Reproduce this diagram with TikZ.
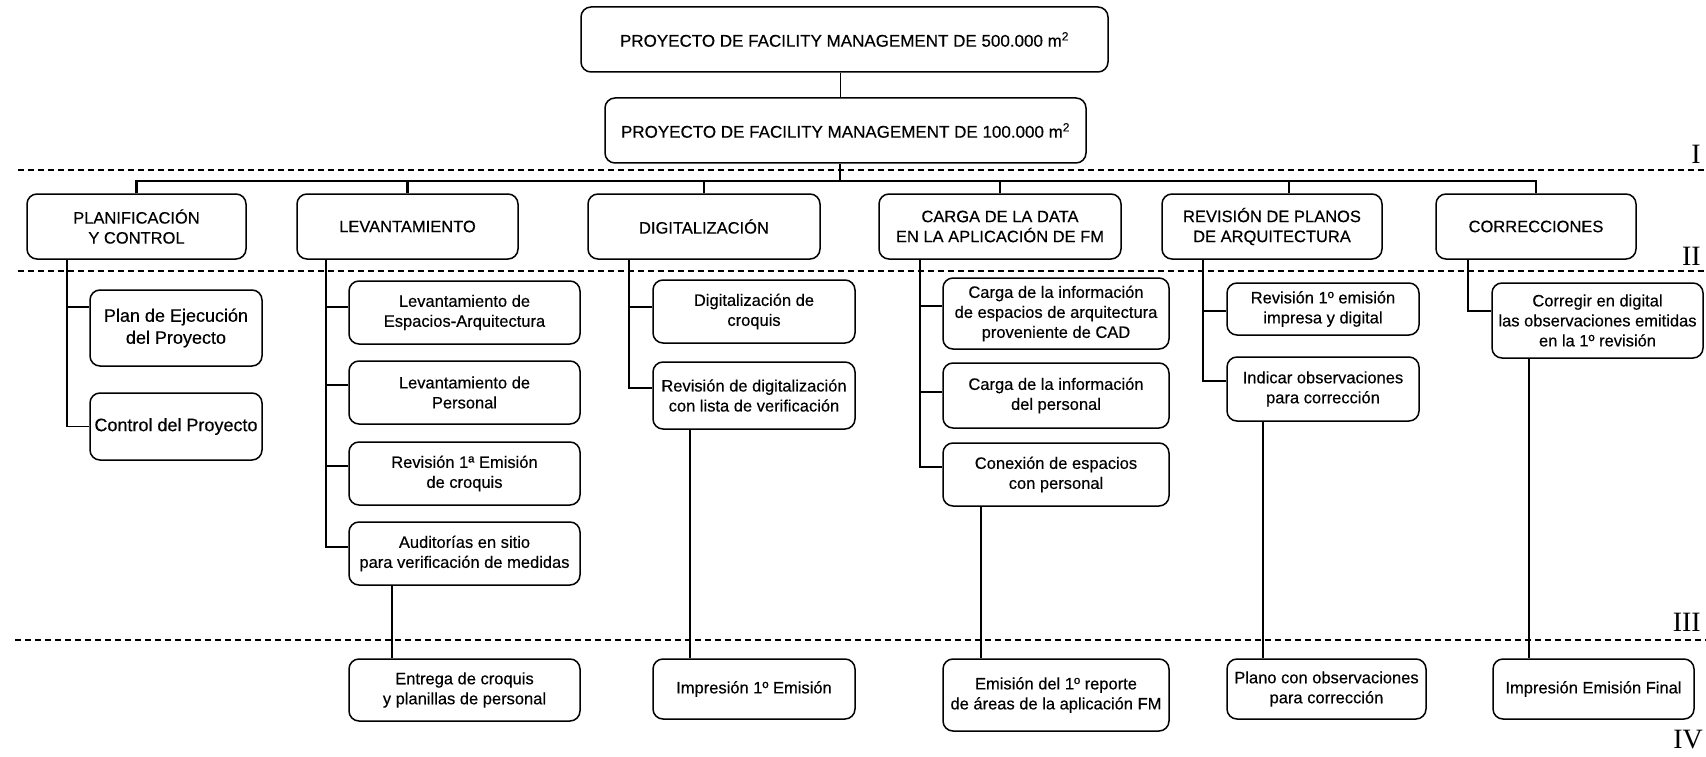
\documentclass[tikz,border=0pt]{standalone}
\usepackage{fontspec}
\setmainfont{Liberation Sans}[FakeBold=0.35]
\newfontfamily\lvlfont{Liberation Serif}
\begin{document}
\begin{tikzpicture}[x=1pt,y=-1pt,
  box/.style={draw, fill=white, rounded corners=10pt, line width=1.5pt, align=center, inner sep=0pt,
    font=\fontsize{16.5}{20}\selectfont},
  bigbox/.style={box, font=\fontsize{18}{22}\selectfont},
  topbox/.style={box, font=\fontsize{17}{21}\selectfont},
  sep/.style={dash pattern=on 6pt off 4pt, line width=1.9pt},
  busline/.style={line width=2.1pt},
  rail/.style={line width=1.6pt},
  link/.style={line width=1.3pt},
  thinlink/.style={line width=1pt},
  lvl/.style={anchor=base east, inner sep=0pt, font=\lvlfont\fontsize{28}{28}\selectfont}]
\useasboundingbox (0,0) rectangle (1706,757);

% level separators
\coordinate (s1a) at (18,170);  \coordinate (s1b) at (1706,170);
\coordinate (s2a) at (18,271);  \coordinate (s2b) at (1706,271);
\coordinate (s3a) at (15,640);  \coordinate (s3b) at (1706,640);
\draw[sep] (s1a) -- (s1b);
\draw[sep] (s2a) -- (s2b);
\draw[sep] (s3a) -- (s3b);
\node[lvl] (L1) at (1701,164) {I};
\node[lvl] (L2) at (1701,265) {II};
\node[lvl] (L3) at (1701,631) {III};
\node[lvl] (L4) at (1703,748) {IV};

% level I
\node[topbox, minimum width=527pt, minimum height=65pt] (T1) at (844.5,39.5) {\raisebox{-2pt}{PROYECTO DE FACILITY MANAGEMENT DE 500.000 m\textsuperscript{2}}};
\node[topbox, minimum width=481pt, minimum height=65pt] (T2) at (845.5,130.5) {\raisebox{-2pt}{PROYECTO DE FACILITY MANAGEMENT DE 100.000 m\textsuperscript{2}}};

% level II
\node[box, minimum width=219pt, minimum height=65pt] (A) at (136.5,226.5) {PLANIFICACIÓN\\Y CONTROL};
\node[box, minimum width=221pt, minimum height=65pt] (B) at (407.5,226.5) {LEVANTAMIENTO};
\node[box, minimum width=232pt, minimum height=65pt] (C) at (704,226.5) {DIGITALIZACIÓN};
\node[box, minimum width=242pt, minimum height=65pt] (D) at (1000,226.5) {CARGA DE LA DATA\\EN LA APLICACIÓN DE FM};
\node[box, minimum width=220pt, minimum height=65pt] (E) at (1272,226.5) {REVISIÓN DE PLANOS\\DE ARQUITECTURA};
\node[box, minimum width=200pt, minimum height=65pt] (F) at (1536,226.5) {CORRECCIONES};

% level III
\node[bigbox, minimum width=172pt, minimum height=76pt] (A1) at (176,328) {Plan de Ejecución\\del Proyecto};
\node[bigbox, minimum width=172pt, minimum height=67pt] (A2) at (176,426.5) {Control del Proyecto};

\node[box, minimum width=231pt, minimum height=63pt] (B1) at (464.5,312.5) {Levantamiento de\\Espacios-Arquitectura};
\node[box, minimum width=231pt, minimum height=63pt] (B2) at (464.5,392.5) {Levantamiento de\\Personal};
\node[box, minimum width=231pt, minimum height=63pt] (B3) at (464.5,473.5) {Revisión 1ª Emisión\\de croquis};
\node[box, minimum width=231pt, minimum height=63pt] (B4) at (464.5,553.5) {Auditorías en sitio\\para verificación de medidas};

\node[box, minimum width=202pt, minimum height=63pt] (C1) at (754,311.5) {Digitalización de\\croquis};
\node[box, minimum width=202pt, minimum height=67pt] (C2) at (754,395.5) {Revisión de digitalización\\con lista de verificación};

\node[box, minimum width=226pt, minimum height=71pt] (D1) at (1056,313.5) {Carga de la información\\de espacios de arquitectura\\proveniente de CAD};
\node[box, minimum width=226pt, minimum height=65pt] (D2) at (1056,395.5) {Carga de la información\\del personal};
\node[box, minimum width=226pt, minimum height=63pt] (D3) at (1056,474.5) {Conexión de espacios\\con personal};

\node[box, minimum width=192pt, minimum height=52pt] (E1) at (1323,309) {Revisión 1º emisión\\impresa y digital};
\node[box, minimum width=192pt, minimum height=64pt] (E2) at (1323,389) {Indicar observaciones\\para corrección};

\node[box, minimum width=211pt, minimum height=75pt] (F1) at (1597.5,320.5) {Corregir en digital\\las observaciones emitidas\\en la 1º revisión};

% level IV
\node[box, minimum width=231pt, minimum height=62pt] (B5) at (464.5,690) {Entrega de croquis\\y planillas de personal};
\node[box, minimum width=202pt, minimum height=60pt] (C3) at (754,689) {Impresión 1º Emisión};
\node[box, minimum width=226pt, minimum height=72pt] (D4) at (1056,695) {Emisión del 1º reporte\\de áreas de la aplicación FM};
\node[box, minimum width=199pt, minimum height=60pt] (E3) at (1326.5,689) {Plano con observaciones\\para corrección};
\node[box, minimum width=201pt, minimum height=60pt] (F2) at (1593.5,689) {Impresión Emisión Final};

% top connectors
\coordinate (bus) at (840,181);
\draw[thinlink] (T1.south -| bus) -- (T2.north -| bus);
\draw[busline] (T2.south -| bus) -- (bus);
\draw[busline] (A.north) -- (A.north |- bus) -- (F.north |- bus) -- (F.north);
\draw[busline] (B.north) -- (B.north |- bus);
\draw[busline] (C.north) -- (C.north |- bus);
\draw[busline] (D.north) -- (D.north |- bus);
\coordinate (Ed) at (1289,181);
\draw[busline] (Ed) -- (E.north -| Ed);

% rails
\coordinate (ra) at (67,0);
\draw[rail] (A.south -| ra) -- (ra |- A2.west) -- (A2.west);
\draw[rail] (ra |- 0,307) -- (A1.west |- 0,307);

\coordinate (rb) at (326,0);
\draw[rail] (B.south -| rb) -- (rb |- 0,547) -- (B4.west |- 0,547);
\draw[rail] (rb |- 0,307) -- (B1.west |- 0,307);
\draw[rail] (rb |- 0,385) -- (B2.west |- 0,385);
\draw[rail] (rb |- 0,466) -- (B3.west |- 0,466);

\coordinate (rc) at (629,0);
\draw[rail] (C.south -| rc) -- (rc |- 0,388) -- (C2.west |- 0,388);
\draw[rail] (rc |- 0,307) -- (C1.west |- 0,307);

\coordinate (rd) at (920,0);
\draw[rail] (D.south -| rd) -- (rd |- 0,467) -- (D3.west |- 0,467);
\draw[rail] (rd |- 0,306) -- (D1.west |- 0,306);
\draw[rail] (rd |- 0,392) -- (D2.west |- 0,392);

\coordinate (re) at (1203,0);
\draw[rail] (E.south -| re) -- (re |- 0,381) -- (E2.west |- 0,381);
\draw[rail] (re |- 0,311) -- (E1.west |- 0,311);

\coordinate (rf) at (1468,0);
\draw[rail] (F.south -| rf) -- (rf |- 0,311) -- (F1.west |- 0,311);

% links to level IV
\coordinate (vb) at (392,0);
\draw[link] (B4.south -| vb) -- (B5.north -| vb);
\coordinate (vc) at (690,0);
\draw[link] (C2.south -| vc) -- (C3.north -| vc);
\coordinate (vd) at (981,0);
\draw[link] (D3.south -| vd) -- (D4.north -| vd);
\coordinate (ve) at (1263,0);
\draw[link] (E2.south -| ve) -- (E3.north -| ve);
\coordinate (vf) at (1529,0);
\draw[link] (F1.south -| vf) -- (F2.north -| vf);
\end{tikzpicture}
\end{document}
